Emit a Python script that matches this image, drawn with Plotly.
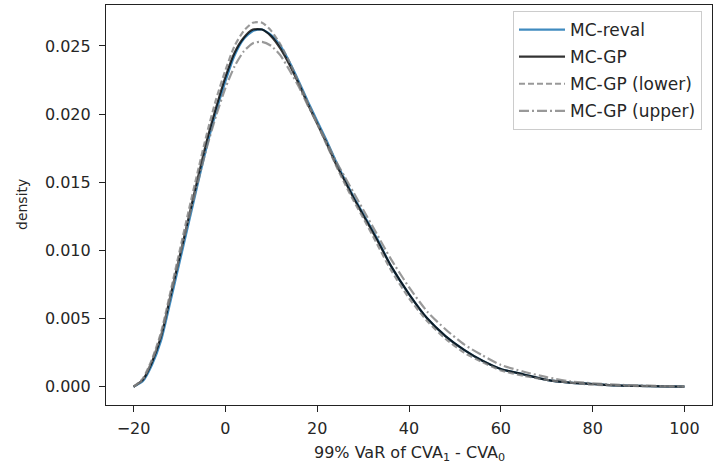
import plotly.graph_objects as go

x = [-20, -18, -16, -14, -12, -10, -8, -6, -4, -2, 0, 2, 4, 6, 8, 10, 12, 14, 16, 18,
     20, 22, 24, 26, 28, 30, 33, 36, 40, 44, 48, 52, 56, 60, 65, 70, 75, 80, 85, 90, 95, 100]

mc_reval = [0.0000, 0.0004, 0.0016, 0.0034, 0.0062, 0.0091, 0.0120, 0.0149, 0.0177, 0.0202,
            0.0224, 0.0243, 0.0255, 0.0261, 0.0262, 0.0258, 0.0250, 0.0238, 0.0224, 0.0209,
            0.0195, 0.0181, 0.0166, 0.0152, 0.0139, 0.0127, 0.0109, 0.0089, 0.0068, 0.0050,
            0.0037, 0.0027, 0.0019, 0.0013, 0.0009, 0.0005, 0.0003, 0.0002, 0.0001, 0.00006,
            0.00003, 0.00001]

mc_gp = [0.0000, 0.0005, 0.0018, 0.0037, 0.0066, 0.0095, 0.0124, 0.0153, 0.0181, 0.0205,
         0.0227, 0.0245, 0.0256, 0.0262, 0.0262, 0.0257, 0.0248, 0.0236, 0.0222, 0.0207,
         0.0193, 0.0179, 0.0164, 0.0151, 0.0138, 0.0126, 0.0108, 0.0089, 0.0068, 0.0050,
         0.0037, 0.0027, 0.0019, 0.0013, 0.0009, 0.0005, 0.0003, 0.0002, 0.0001, 0.00006,
         0.00003, 0.00001]

mc_gp_lower = [0.0000, 0.0006, 0.0020, 0.0040, 0.0069, 0.0099, 0.0129, 0.0158, 0.0186, 0.0211,
               0.0232, 0.0250, 0.0261, 0.0267, 0.0267, 0.0261, 0.0251, 0.0238, 0.0223, 0.0208,
               0.0193, 0.0178, 0.0163, 0.0149, 0.0136, 0.0124, 0.0105, 0.0086, 0.0065, 0.0048,
               0.0035, 0.0025, 0.0018, 0.0012, 0.0008, 0.0005, 0.0003, 0.00015, 0.0001, 0.00005,
               0.00003, 0.00001]

mc_gp_upper = [0.0000, 0.0005, 0.0019, 0.0038, 0.0066, 0.0095, 0.0123, 0.0150, 0.0176, 0.0199,
               0.0219, 0.0235, 0.0246, 0.0252, 0.0253, 0.0250, 0.0243, 0.0232, 0.0220, 0.0206,
               0.0193, 0.0180, 0.0166, 0.0154, 0.0142, 0.0130, 0.0112, 0.0094, 0.0073, 0.0055,
               0.0042, 0.0031, 0.0023, 0.0016, 0.0011, 0.0007, 0.0004, 0.00025, 0.00015, 0.0001,
               0.00005, 0.00002]

x_ticks = [-20, 0, 20, 40, 60, 80, 100]
x_tick_labels = ["\u221220", "0", "20", "40", "60", "80", "100"]
y_ticks = [0.000, 0.005, 0.010, 0.015, 0.020, 0.025]
y_tick_labels = ["0.000", "0.005", "0.010", "0.015", "0.020", "0.025"]

FONT = "DejaVu Sans"
TXT = "#262626"

fig = go.Figure()
series = [
    ("MC-reval", mc_reval, "rgba(31,119,180,0.85)", "solid"),
    ("MC-GP", mc_gp, "rgba(0,0,0,0.8)", "solid"),
    ("MC-GP (lower)", mc_gp_lower, "rgba(128,128,128,0.8)", "6px,3px"),
    ("MC-GP (upper)", mc_gp_upper, "rgba(128,128,128,0.8)", "10px,3px,2px,3px"),
]
for i, (name, ys, col, dash) in enumerate(series):
    fig.add_trace(go.Scatter(
        x=x, y=ys, mode="lines", name=name, legendgroup=f"g{i}",
        line=dict(color=col, width=2.2, dash=dash, shape="spline", smoothing=0.6),
    ))

axis_common = dict(
    showgrid=False, zeroline=False, showline=True, linecolor="#222", linewidth=1.2,
    mirror=True, ticks="outside", ticklen=6, tickwidth=1.2, tickcolor="#222",
    tickfont=dict(family=FONT, size=16, color=TXT), automargin=False,
)

fig.update_layout(
    width=713, height=468,
    margin=dict(l=106, r=1, t=5, b=63),
    paper_bgcolor="white", plot_bgcolor="white",
    xaxis=dict(range=[-26, 106], tickvals=x_ticks, ticktext=x_tick_labels,
               ticklabelstandoff=3, **axis_common),
    yaxis=dict(range=[-0.00134, 0.0280], tickvals=y_ticks, ticktext=y_tick_labels,
               ticklabelstandoff=5, **axis_common),
    legend=dict(x=0.9835, xanchor="right", y=0.985, yanchor="top",
                bordercolor="#cccccc", borderwidth=1, bgcolor="rgba(255,255,255,0.8)",
                font=dict(family=FONT, size=17, color=TXT),
                tracegroupgap=2, itemwidth=46),
    showlegend=True,
    annotations=[
        dict(text="99% VaR of CVA<sub>1</sub> - CVA<sub>0</sub>", xref="paper", yref="paper",
             x=0.5, y=0, yshift=-48, xanchor="center", yanchor="middle", showarrow=False,
             font=dict(family=FONT, size=16, color=TXT)),
        dict(text="density", xref="paper", yref="paper", x=0, xshift=-84, y=0.5,
             xanchor="center", yanchor="middle", textangle=-90, showarrow=False,
             font=dict(family=FONT, size=14, color=TXT)),
    ],
)

fig.write_html("out.html", config={"displayModeBar": False},
               post_script="document.body.style.margin='0';")
